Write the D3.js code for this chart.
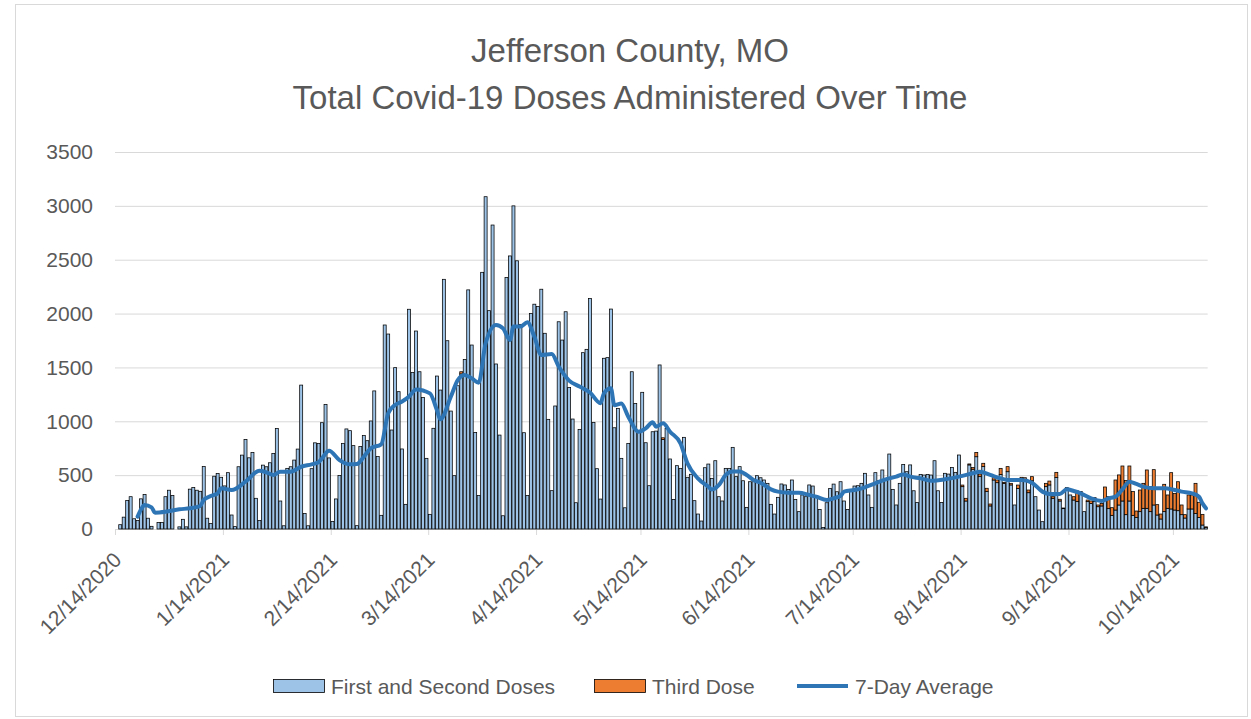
<!DOCTYPE html>
<html>
<head>
<meta charset="utf-8">
<script src="https://cdn.jsdelivr.net/npm/d3@7"></script>
<style>
  body { margin: 0; background: #fff; }
  text { font-family: "Liberation Sans", Arial, sans-serif; fill: #595959; }
</style>
</head>
<body>
<div id="chart"></div>
<script>
// daily values, first day = startDate
var startDate = "2020-12-14";

var firstSecond = [
  0, 40, 110, 265, 300, 95, 80, 280, 320, 100,
  25, 0, 60, 60, 300, 360, 310, 0, 20, 90,
  20, 370, 385, 360, 350, 580, 100, 50, 490, 515,
  480, 400, 523, 130, 22, 578, 686, 832, 661, 711,
  285, 78, 593, 578, 615, 702, 934, 260, 30, 563,
  578, 640, 742, 1336, 145, 30, 560, 800, 795, 987,
  1157, 660, 70, 279, 496, 795, 929, 913, 774, 31,
  765, 867, 820, 1003, 1282, 672, 127, 1894, 1810, 919,
  1498, 1275, 743, 229, 2040, 1452, 1838, 1460, 1221, 656,
  136, 935, 1420, 1290, 2318, 1748, 1095, 495, 1330, 1440,
  1574, 2220, 1708, 897, 310, 2383, 3085, 2027, 2822, 1532,
  872, 123, 2336, 2535, 3000, 2490, 1900, 894, 310, 2000,
  2087, 2065, 2226, 1817, 1018, 356, 1142, 1924, 1754, 2017,
  1314, 1021, 244, 925, 1637, 1668, 2139, 990, 560, 278,
  1585, 1591, 2042, 940, 1120, 656, 197, 795, 1460, 1166,
  903, 1269, 801, 402, 903, 909, 1523, 832, 934, 650,
  275, 588, 563, 851, 480, 508, 263, 139, 74, 569,
  603, 470, 634, 300, 260, 563, 563, 758, 486, 579,
  448, 201, 439, 439, 495, 476, 455, 424, 229, 139,
  294, 418, 409, 368, 455, 275, 161, 316, 300, 409,
  399, 300, 182, 15, 244, 377, 417, 346, 439, 260,
  182, 362, 399, 402, 424, 517, 316, 201, 523, 448,
  548, 470, 696, 368, 223, 424, 600, 532, 595, 355,
  247, 507, 501, 507, 501, 634, 355, 247, 517, 510,
  572, 526, 687, 393, 260, 595, 555, 671, 486, 579,
  347, 214, 455, 430, 507, 424, 532, 409, 223, 377,
  470, 461, 337, 448, 300, 176, 68, 393, 409, 285,
  479, 260, 189, 362, 316, 269, 254, 331, 161, 254,
  238, 254, 207, 214, 276, 189, 127, 176, 223, 260,
  133, 260, 127, 108, 161, 192, 192, 161, 223, 130,
  93, 161, 192, 186, 176, 170, 133, 102, 186, 186,
  145, 108, 37, 15
];

var thirdDose = [
  0, 0, 0, 0, 0, 0, 0, 0, 0, 0,
  0, 0, 0, 0, 0, 0, 0, 0, 0, 0,
  0, 0, 0, 0, 0, 0, 0, 0, 0, 0,
  0, 0, 0, 0, 0, 0, 0, 0, 0, 0,
  0, 0, 0, 0, 0, 0, 0, 0, 0, 0,
  0, 0, 0, 0, 0, 0, 0, 0, 0, 0,
  0, 0, 0, 0, 0, 0, 0, 0, 0, 0,
  0, 0, 0, 0, 0, 0, 0, 0, 0, 0,
  0, 0, 0, 0, 0, 0, 0, 0, 0, 0,
  0, 0, 0, 0, 0, 0, 0, 0, 0, 20,
  0, 0, 0, 0, 0, 0, 0, 0, 0, 0,
  0, 0, 0, 0, 0, 0, 0, 0, 0, 0,
  0, 0, 0, 0, 0, 0, 0, 0, 0, 0,
  0, 0, 0, 0, 0, 0, 0, 0, 0, 0,
  0, 0, 0, 0, 0, 0, 0, 0, 0, 0,
  0, 0, 0, 0, 0, 0, 0, 15, 0, 0,
  0, 0, 0, 0, 0, 0, 0, 0, 0, 0,
  0, 0, 0, 0, 0, 0, 0, 0, 0, 0,
  0, 0, 0, 0, 0, 0, 0, 0, 0, 0,
  0, 0, 0, 0, 0, 0, 0, 0, 0, 0,
  0, 0, 0, 0, 0, 0, 0, 0, 0, 0,
  0, 0, 0, 0, 0, 0, 0, 0, 0, 0,
  0, 0, 0, 0, 0, 0, 0, 0, 0, 0,
  0, 0, 0, 0, 0, 0, 0, 0, 0, 0,
  0, 0, 0, 15, 25, 9, 15, 40, 24, 31,
  31, 18, 21, 25, 56, 9, 47, 15, 0, 31,
  10, 15, 25, 38, 0, 0, 0, 31, 36, 15,
  47, 16, 6, 22, 0, 31, 99, 16, 0, 15,
  22, 37, 16, 24, 114, 111, 71, 279, 279, 325,
  317, 325, 220, 59, 201, 232, 356, 232, 328, 96,
  46, 254, 124, 337, 155, 269, 90, 31, 130, 130,
  279, 140, 99, 5
];

// 7-day average (day number since startDate, value)
var avgDay = [6, 7, 8, 10, 11, 14, 18, 21, 24, 25, 27, 29, 30, 33, 37, 41, 43, 45, 47, 50,
  53, 56, 58, 59, 61, 64, 67, 69, 71, 73, 76, 78, 80, 82, 84, 86, 90, 92, 93, 96,
  98, 100, 102, 104, 106, 109, 111, 113, 114, 116, 118, 120, 122, 125, 127, 130, 133, 136, 139, 140,
  142, 143, 145, 147, 150, 152, 154, 155, 157, 159, 162, 164, 167, 170, 171, 173, 175, 177, 179, 181,
  183, 185, 188, 190, 193, 196, 199, 201, 204, 206, 208, 209, 212, 215, 218, 221, 224, 226, 228, 231,
  234, 238, 242, 246, 248, 251, 254, 256, 260, 263, 266, 268, 271, 273, 275, 277, 280, 283, 285, 287,
  289, 291, 293, 295, 298, 301, 304, 306, 309, 311, 312, 313];
var avgValue = [115, 183, 222, 201, 152, 160, 183, 192, 214, 270, 306, 331, 378, 362, 439, 541, 526, 501, 532, 532,
  578, 600, 620, 656, 727, 640, 600, 603, 671, 749, 786, 1074, 1152, 1183, 1229, 1296, 1259, 1104, 1018, 1228,
  1383, 1430, 1399, 1358, 1724, 1894, 1863, 1755, 1879, 1879, 1919, 1786, 1616, 1625, 1508, 1378, 1322, 1267, 1168, 1260,
  1307, 1150, 1166, 1043, 903, 934, 990, 950, 981, 903, 795, 609, 470, 392, 367, 407, 502, 533, 533, 502,
  455, 430, 368, 347, 337, 337, 316, 300, 269, 285, 307, 347, 362, 387, 424, 461, 486, 507, 486, 470,
  448, 461, 486, 517, 532, 502, 470, 455, 455, 430, 347, 325, 325, 368, 353, 331, 285, 260, 285, 300,
  368, 439, 418, 393, 378, 378, 362, 347, 331, 300, 238, 192];

var tickDates = ["2020-12-14", "2021-01-14", "2021-02-14", "2021-03-14", "2021-04-14", "2021-05-14",
  "2021-06-14", "2021-07-14", "2021-08-14", "2021-09-14", "2021-10-14"];
var yTicks = [0, 500, 1000, 1500, 2000, 2500, 3000, 3500];
var titleLines = ["Jefferson County, MO", "Total Covid-19 Doses Administered Over Time"];
var legendLabels = ["First and Second Doses", "Third Dose", "7-Day Average"];

var width = 1251, height = 719;
var plotL = 115, plotR = 1207.7, plotT = 152, plotB = 529;

var parse = d3.utcParse("%Y-%m-%d");
var start = parse(startDate);

var x = d3.scaleUtc()
  .domain([start, d3.utcDay.offset(start, firstSecond.length)])
  .range([plotL, plotR]);
var y = d3.scaleLinear().domain([0, 3500]).range([plotB, plotT]);
var slot = x(d3.utcDay.offset(start, 1)) - x(start);

var svg = d3.select("#chart").append("svg")
  .attr("width", width)
  .attr("height", height);

svg.append("rect")
  .attr("x", 15.5).attr("y", 4.5)
  .attr("width", 1232).attr("height", 712)
  .attr("fill", "#fff")
  .attr("stroke", "#d9d9d9");

// title
svg.selectAll("text.title")
  .data(titleLines)
  .enter().append("text")
  .attr("class", "title")
  .attr("x", 630)
  .attr("y", function(d, i) { return 62 + i * 47; })
  .attr("text-anchor", "middle")
  .style("font-size", "33px")
  .text(function(d) { return d; });

// y axis + gridlines
var yAxis = svg.append("g")
  .attr("transform", "translate(" + plotL + ",0)")
  .call(d3.axisLeft(y)
    .tickValues(yTicks)
    .tickFormat(d3.format("d"))
    .tickSize(-(plotR - plotL))
    .tickPadding(22));
yAxis.select(".domain").remove();
yAxis.selectAll(".tick line")
  .attr("stroke", "#d9d9d9")
  .attr("stroke-width", 1);
yAxis.selectAll(".tick text")
  .style("font-size", "21px")
  .attr("fill", "#595959");

// x axis
var xAxis = svg.append("g")
  .attr("transform", "translate(0," + plotB + ")")
  .call(d3.axisBottom(x)
    .tickValues(tickDates.map(parse))
    .tickSize(6)
    .tickFormat(d3.utcFormat("%-m/%-d/%Y")));
xAxis.select(".domain").attr("stroke", "#d9d9d9").attr("d", "M" + plotL + ",0.5H" + plotR);
xAxis.selectAll(".tick line").attr("stroke", "#d9d9d9");
xAxis.selectAll(".tick text")
  .style("font-size", "21px")
  .attr("fill", "#595959")
  .attr("text-anchor", "end")
  .attr("dy", "0.35em")
  .attr("transform", "translate(2,27) rotate(-45)")
  .attr("y", 0)
  .attr("x", 0);

// bars
var days = firstSecond.map(function(d, i) {
  return { date: d3.utcDay.offset(start, i), a: d, b: thirdDose[i] };
});

var bars = svg.append("g");
bars.selectAll("rect.first")
  .data(days)
  .enter().append("rect")
  .attr("class", "first")
  .attr("x", function(d) { return x(d.date) + slot * 0.07; })
  .attr("width", slot * 0.86)
  .attr("y", function(d) { return y(d.a); })
  .attr("height", function(d) { return y(0) - y(d.a); })
  .attr("fill", "#9dc3e6")
  .attr("stroke", "#000")
  .attr("stroke-width", 0.75);

bars.selectAll("rect.third")
  .data(days.filter(function(d) { return d.b > 0; }))
  .enter().append("rect")
  .attr("class", "third")
  .attr("x", function(d) { return x(d.date) + slot * 0.07; })
  .attr("width", slot * 0.86)
  .attr("y", function(d) { return y(d.a + d.b); })
  .attr("height", function(d) { return y(d.a) - y(d.a + d.b); })
  .attr("fill", "#ed7d31")
  .attr("stroke", "#000")
  .attr("stroke-width", 0.75);

// 7-day average line
var avg = avgDay.map(function(d, i) { return { day: d, value: avgValue[i] }; });
var line = d3.line()
  .x(function(d) { return x(d3.utcDay.offset(start, d.day)) + slot / 2; })
  .y(function(d) { return y(d.value); })
  .curve(d3.curveMonotoneX);

svg.append("path")
  .datum(avg)
  .attr("fill", "none")
  .attr("stroke", "#2e75b6")
  .attr("stroke-width", 4)
  .attr("stroke-linejoin", "round")
  .attr("stroke-linecap", "round")
  .attr("d", line);

// legend
var legend = svg.append("g");
var legX = [273, 594, 797];
legend.append("rect")
  .attr("x", legX[0] + 0.5).attr("y", 679.5).attr("width", 51).attr("height", 13)
  .attr("fill", "#9dc3e6").attr("stroke", "#000").attr("stroke-width", 0.8);
legend.append("rect")
  .attr("x", legX[1] + 0.5).attr("y", 679.5).attr("width", 51).attr("height", 13)
  .attr("fill", "#ed7d31").attr("stroke", "#000").attr("stroke-width", 0.8);
legend.append("line")
  .attr("x1", legX[2]).attr("x2", legX[2] + 51)
  .attr("y1", 686).attr("y2", 686)
  .attr("stroke", "#2e75b6").attr("stroke-width", 4);
legend.selectAll("text")
  .data(legendLabels)
  .enter().append("text")
  .attr("x", function(d, i) { return legX[i] + 58; })
  .attr("y", 694)
  .style("font-size", "21px")
  .text(function(d) { return d; });
</script>
</body>
</html>
